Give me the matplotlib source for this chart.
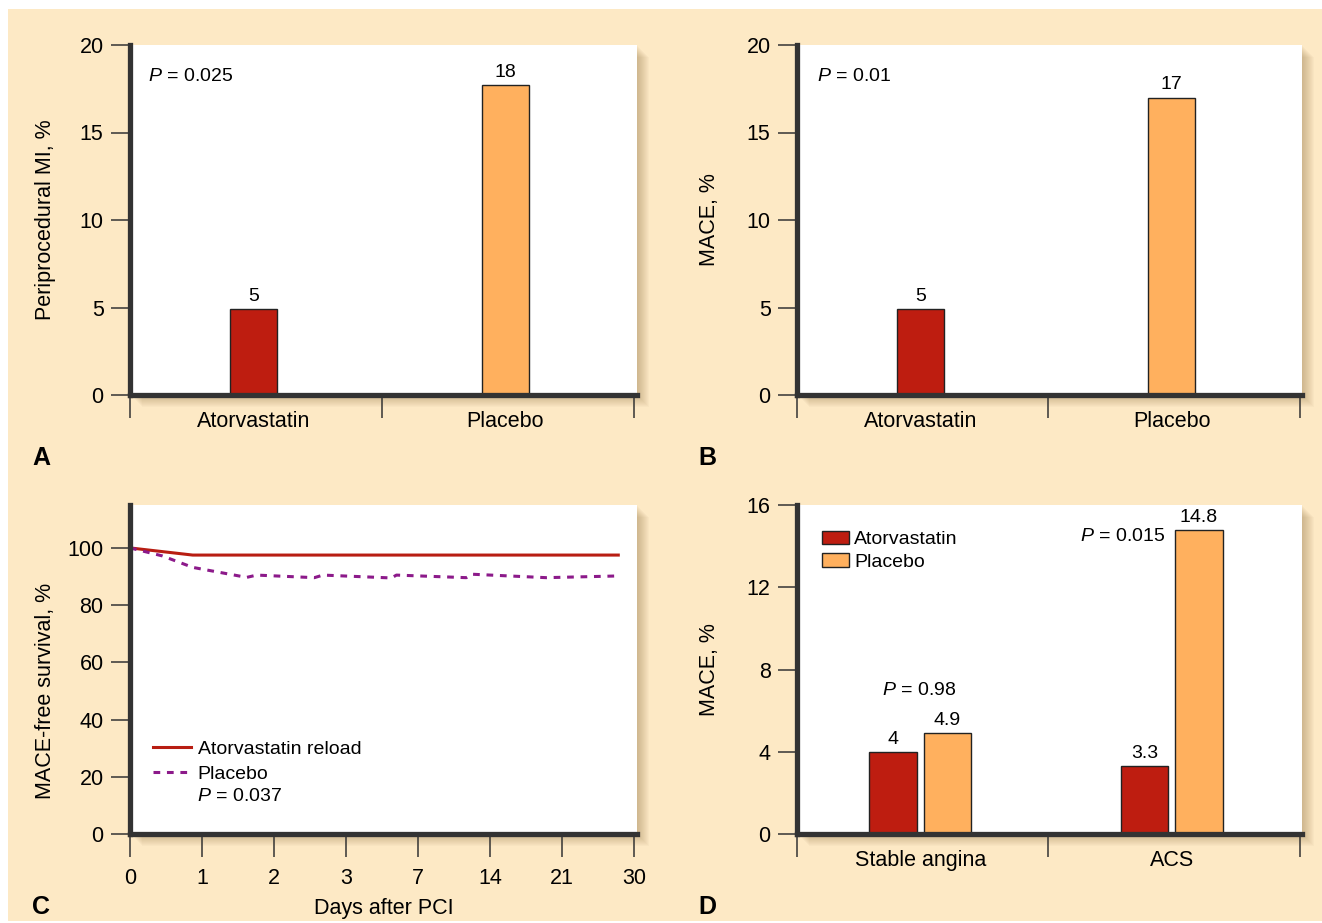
import matplotlib
matplotlib.use("Agg")
import matplotlib.pyplot as plt
from matplotlib.patches import Rectangle

plt.rcParams["font.family"] = ["Liberation Sans", "DejaVu Sans"]
plt.rcParams["mathtext.fontset"] = "custom"
plt.rcParams["mathtext.it"] = "Liberation Sans:italic"
plt.rcParams["mathtext.rm"] = "Liberation Sans"

W, H = 1322, 923

# panel A: periprocedural MI
ab_categories = ["Atorvastatin", "Placebo"]
mi_values = [4.9, 17.7]
mi_labels = ["5", "18"]

# panel B: MACE
mace_values = [4.9, 17.0]
mace_labels = ["5", "17"]

# panel C: MACE-free survival (x = tick index)
day_labels = ["0", "1", "2", "3", "7", "14", "21", "30"]
atorva_x = [0, 0.87, 6.78]
atorva_y = [100, 97.5, 97.5]
placebo_x = [0, 0.45, 0.87, 1.62, 1.76, 2.56, 2.68, 3.63, 3.70, 4.67, 4.75, 5.78, 6.78]
placebo_y = [100, 97.2, 93.2, 89.7, 90.5, 89.6, 90.5, 89.5, 90.5, 89.6, 90.8, 89.6, 90.2]

# panel D: MACE by presentation
d_groups = ["Stable angina", "ACS"]
d_atorva = [4.0, 3.3]
d_placebo = [4.9, 14.8]
d_atorva_labels = ["4", "3.3"]
d_placebo_labels = ["4.9", "14.8"]

RED = "#be1d10"
ORANGE = "#ffb05e"
PURPLE = "#8c1a8a"
LINE_RED = "#b81d12"
BEIGE = "#fde9c5"
DARK = "#333333"
FS = 15.5

fig = plt.figure(figsize=(W / 100, H / 100), dpi=100)
fig.patch.set_facecolor("white")
fig.patches.append(Rectangle((8 / W, 1 - 921 / H), 1 - 8 / W, 912 / H,
                             transform=fig.transFigure, facecolor=BEIGE,
                             edgecolor="none", zorder=-5))


def make_axes(left, top, right, bottom):
    # soft shadow to the right / bottom
    for i in range(1, 13):
        fig.patches.append(Rectangle(((left + i) / W, 1 - (bottom + i) / H),
                                     (right - left) / W, (bottom - top) / H,
                                     transform=fig.transFigure,
                                     facecolor="#8a6a3a", alpha=0.035,
                                     edgecolor="none", zorder=-2))
    ax = fig.add_axes([left / W, 1 - bottom / H, (right - left) / W, (bottom - top) / H])
    ax.set_facecolor("white")
    for s in ["top", "right"]:
        ax.spines[s].set_visible(False)
    for s in ["left", "bottom"]:
        ax.spines[s].set_linewidth(3.8)
        ax.spines[s].set_color(DARK)
    ax.spines["left"].set_capstyle("projecting")
    ax.tick_params(axis="y", direction="out", length=14, width=1.1,
                   color=DARK, labelsize=FS, pad=5)
    ax.tick_params(axis="x", which="major", direction="out", length=16.5,
                   width=1.1, color=DARK, labelsize=FS)
    return ax


def category_axis(ax, labels, centers):
    ax.set_xticks([0, 1, 2])
    ax.set_xticklabels([])
    ax.set_xticks(centers, minor=True)
    ax.set_xticklabels(labels, minor=True)
    ax.tick_params(axis="x", which="minor", length=0, labelsize=FS, pad=11.5)


centers = [i + 0.49 for i in range(2)]

# ---- A ----
axA = make_axes(130, 45, 637, 395)
axA.bar(centers, mi_values, width=0.187, color=[RED, ORANGE],
        edgecolor="#222222", linewidth=1)
for x, v, t in zip(centers, mi_values, mi_labels):
    axA.annotate(t, (x, v), xytext=(0, 3), textcoords="offset points",
                 ha="center", va="bottom", fontsize=14)
axA.set_xlim(0, 2.012)
axA.set_ylim(0, 20)
axA.set_yticks([0, 5, 10, 15, 20])
category_axis(axA, ab_categories, centers)
axA.set_ylabel("Periprocedural MI, %", fontsize=FS)
axA.yaxis.set_label_coords(-0.146, 0.5)
axA.text(0.071, 18.2, "$P$ = 0.025", fontsize=14, va="center", ha="left")

# ---- B ----
axB = make_axes(797, 45, 1302, 395)
axB.bar(centers, mace_values, width=0.187, color=[RED, ORANGE],
        edgecolor="#222222", linewidth=1)
for x, v, t in zip(centers, mace_values, mace_labels):
    axB.annotate(t, (x, v), xytext=(0, 3), textcoords="offset points",
                 ha="center", va="bottom", fontsize=14)
axB.set_xlim(0, 2.008)
axB.set_ylim(0, 20)
axB.set_yticks([0, 5, 10, 15, 20])
category_axis(axB, ab_categories, centers)
axB.set_ylabel("MACE, %", fontsize=FS)
axB.yaxis.set_label_coords(-0.152, 0.5)
axB.text(0.08, 18.2, "$P$ = 0.01", fontsize=14, va="center", ha="left")

# ---- C ----
axC = make_axes(130, 505, 637, 834)
axC.plot(atorva_x, atorva_y, color=LINE_RED, linewidth=2.2,
         label="Atorvastatin reload")
axC.plot(placebo_x, placebo_y, color=PURPLE, linewidth=2.2,
         linestyle=(0, (2.2, 2.2)), label="Placebo")
axC.set_xlim(0, 7.04)
axC.set_ylim(0, 115)
axC.set_yticks([0, 20, 40, 60, 80, 100])
axC.set_xticks(range(len(day_labels)))
axC.set_xticklabels(day_labels)
axC.tick_params(axis="x", pad=8)
axC.set_ylabel("MACE-free survival, %", fontsize=FS)
axC.yaxis.set_label_coords(-0.146, 0.435)
axC.set_xlabel("Days after PCI", fontsize=FS, labelpad=6.5)
axC.legend(loc="upper left", bbox_to_anchor=(0.045, 0.285), frameon=False,
           fontsize=14, handlelength=1.95, handletextpad=0.35,
           borderpad=0, borderaxespad=0, labelspacing=0.38)
axC.text(0.93, 13.0, "$P$ = 0.037", fontsize=14, va="center", ha="left")

# ---- D ----
axD = make_axes(797, 505, 1302, 834)
off = 0.108
xa = [c - off for c in centers]
xp = [c + off for c in centers]
axD.bar(xa, d_atorva, width=0.19, color=RED, edgecolor="#222222",
        linewidth=1, label="Atorvastatin")
axD.bar(xp, d_placebo, width=0.19, color=ORANGE, edgecolor="#222222",
        linewidth=1, label="Placebo")
for x, v, t in zip(xa, d_atorva, d_atorva_labels):
    axD.annotate(t, (x, v), xytext=(0, 3), textcoords="offset points",
                 ha="center", va="bottom", fontsize=14)
for x, v, t in zip(xp, d_placebo, d_placebo_labels):
    axD.annotate(t, (x, v), xytext=(0, 3), textcoords="offset points",
                 ha="center", va="bottom", fontsize=14)
axD.set_xlim(0, 2.008)
axD.set_ylim(0, 16)
axD.set_yticks([0, 4, 8, 12, 16])
category_axis(axD, d_groups, centers)
axD.set_ylabel("MACE, %", fontsize=FS)
axD.yaxis.set_label_coords(-0.152, 0.5)
axD.text(centers[0] - 0.005, 7.0, "$P$ = 0.98", fontsize=14, va="center", ha="center")
axD.text(xp[1] - 0.135, 14.45, "$P$ = 0.015", fontsize=14, va="center", ha="right")
axD.legend(loc="upper left", bbox_to_anchor=(0.05, 0.922), frameon=False,
           fontsize=14, handlelength=1.35, handleheight=0.7,
           handletextpad=0.3, borderpad=0, borderaxespad=0, labelspacing=0.25)

# panel letters
for letter, x, y in [("A", 32, 465), ("B", 698, 465), ("C", 32, 914), ("D", 698, 914)]:
    fig.text(x / W, 1 - y / H, letter, fontsize=18, fontweight="bold",
             ha="left", va="baseline")

fig.savefig("out.png", dpi=100, facecolor=fig.get_facecolor())
